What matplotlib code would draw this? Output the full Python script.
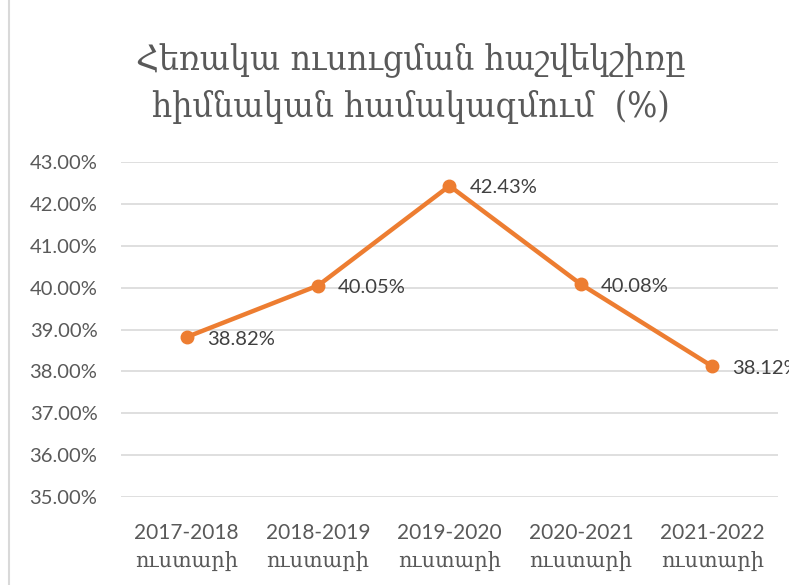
import matplotlib
matplotlib.use("Agg")
import matplotlib.pyplot as plt
from matplotlib.lines import Line2D

# tari -> tokos
years = ["2017-2018", "2018-2019", "2019-2020", "2020-2021", "2021-2022"]
suffix = "ուստարի"
values = [38.82, 40.05, 42.43, 40.08, 38.12]
yticks = [35, 36, 37, 38, 39, 40, 41, 42, 43]
title = "Հեռակա ուսուցման հաշվեկշիռը\nհիմնական համակազմում  (%)"

orange = "#ED7D31"
gray = "#595959"

fig = plt.figure(figsize=(7.89, 5.85), dpi=100)
ax = fig.add_axes([0.1534, 0.1504, 0.8326, 0.5727])

x = list(range(len(years)))
ax.plot(x, values, color=orange, linewidth=3.2, marker="o", markersize=9,
        solid_capstyle="round", zorder=3)

for i, v in enumerate(values):
    ax.annotate("%.2f%%" % v, (i, v), xytext=(20, -2), textcoords="offset pixels",
                ha="left", va="center", fontsize=14.5, color="#404040",
                family=["Lato", "DejaVu Sans"], annotation_clip=False)

ax.set_xlim(-0.5, len(years) - 0.5)
ax.set_ylim(35, 43)
ax.set_yticks(yticks)
ax.set_yticklabels(["%.2f%%" % t for t in yticks], family=["Lato", "DejaVu Sans"],
                   fontsize=14.5, color=gray)
ax.set_xticks(x)
ax.set_xticklabels([y + "\n" + suffix for y in years], family=["Lato", "DejaVu Serif"],
                   fontsize=15, color=gray, linespacing=1.5)
ax.tick_params(axis="both", length=0)
ax.tick_params(axis="y", pad=17)
ax.tick_params(axis="x", pad=19)
ax.grid(axis="y", color="#D9D9D9", linewidth=1.2)
ax.set_axisbelow(True)
for s in ax.spines.values():
    s.set_visible(False)

fig.text(0.521, 0.858, title, ha="center", va="center", fontsize=25.5, color=gray,
         family="DejaVu Serif", stretch="condensed", linespacing=1.5)

fig.add_artist(Line2D([0.011, 0.011], [0, 1], transform=fig.transFigure,
                      color="#D9D9D9", linewidth=1.5))

fig.savefig("out.png", dpi=100)
